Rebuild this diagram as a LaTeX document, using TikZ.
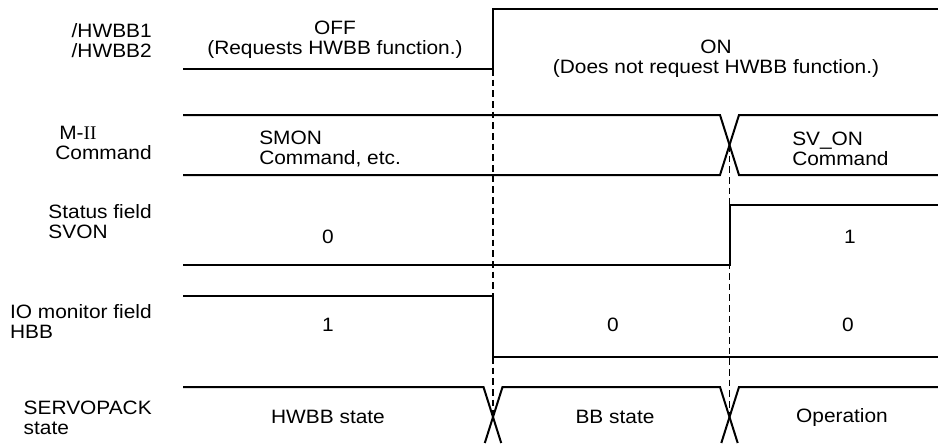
\documentclass[tikz,border=0pt]{standalone}
\usepackage{fontspec}
\setmainfont{Liberation Sans}[FakeStretch=1.08]
\newfontfamily\romanfont{Liberation Serif}
\usetikzlibrary{positioning}

\begin{document}
\begin{tikzpicture}[x=0.75pt, y=-0.75pt]
  \tikzstyle{signal} = [line width=1.5pt, line join=miter]
  \tikzstyle{guide} = [line width=0.8pt, dash pattern=on 5pt off 3pt]
  \tikzstyle{rowname} = [anchor=east, align=left, inner sep=0pt, font=\fontsize{14.5}{15}\selectfont]
  \tikzstyle{value} = [align=center, inner sep=0pt, font=\fontsize{14.5}{15}\selectfont]
  \useasboundingbox (0,0) rectangle (938,443);

  \node (hwbb) [rowname] at (152,41) {/HWBB1\\/HWBB2};
  \node (cmd) [rowname] at (152,143) {\hspace{0.2em}M-{\romanfont II}\\Command};
  \node (svon) [rowname] at (152,222) {Status field\\SVON};
  \node (hbb) [rowname] at (152,321) {IO monitor field\\HBB};
  \node (state) [rowname] at (152,418) {SERVOPACK\\state};

  \node (off) [value] at (335,40) {OFF\\(Requests HWBB function.)};
  \node (on) [value] at (716,59) {ON\\(Does not request HWBB function.)};
  \node (smon) [value, anchor=west, align=left] at (259,149) {SMON\\Command, etc.};
  \node (svcmd) [value, anchor=west, align=left] at (792,149) {SV\_ON\\Command};
  \node (svon0) [value] at (328,237) {0};
  \node (svon1) [value] at (850,237) {1};
  \node (hbb1) [value] at (328,325) {1};
  \node (hbb0a) [value] at (613,325) {0};
  \node (hbb0b) [value] at (848,325) {0};
  \node (hwbbst) [value] at (328,417) {HWBB state};
  \node (bbst) [value] at (615,417) {BB state};
  \node (oper) [value] at (842,417) {Operation};

  \coordinate (hwbbup) at (493,69);
  \coordinate (cross1) at (493,417);
  \coordinate (cmdx) at (729.5,145);
  \coordinate (cross2) at (729.5,417);

  \draw [signal] (183,69) -| (493,9) -- (938,9);
  \draw [signal] (183,115) -- (720,115) -- (739,175) -- (938,175);
  \draw [signal] (183,175) -- (720,175) -- (739,115) -- (938,115);
  \draw [signal] (183,265) -| (729.5,205) -- (938,205);
  \draw [signal] (183,296) -| (493,357) -- (938,357);
  \draw [signal] (183,387) -- (483.5,387) -- (501.2,443);
  \draw [signal] (484.8,443) -- (502.5,387) -- (720,387) -- (737.7,443);
  \draw [signal] (721.3,443) -- (739,387) -- (938,387);

  \draw [guide] (hwbbup) -- (cross1);
  \draw [guide] (cmdx) -- (cross2);
\end{tikzpicture}
\end{document}
